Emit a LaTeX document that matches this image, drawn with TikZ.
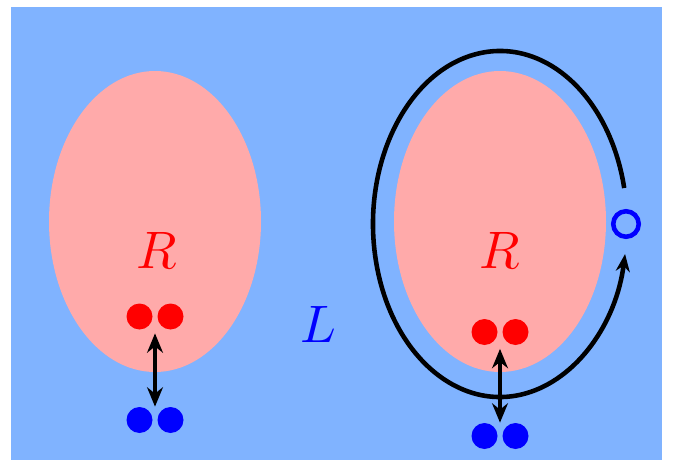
\documentclass[tikz,border=0pt]{standalone}
\usetikzlibrary{arrows.meta,calc,shapes.geometric}

\definecolor{skyblue}{RGB}{128,179,255}
\definecolor{rosepink}{RGB}{255,170,170}

\begin{document}
\begin{tikzpicture}[
    region/.style={ellipse, fill=rosepink, minimum width=4.24cm, minimum height=6.02cm, inner sep=0pt},
    dot/.style={circle, minimum size=0.52cm, inner sep=0pt},
    ring/.style={circle, draw=blue, line width=2.6pt, minimum size=0.51cm, inner sep=0pt},
    label/.style={scale=3},
    link/.style={arrows={Stealth[length=11pt, width=9pt]-Stealth[length=11pt, width=9pt]}, line width=2.8pt},
    orbit/.style={arrows={-Stealth[length=10pt, width=8pt]}, line width=2.6pt}
]

    % Canvas and background
    \useasboundingbox (0,0) rectangle (13.5,9.2);
    \fill[skyblue] (0.22,0) rectangle (13.24,9.06);

    % Regions
    \node[region] (regL) at (3.1,4.77) {};
    \node[region] (regR) at (10,4.77) {};

    % Labels
    \node[label, text=red] (labL) at (3.14,4.2) {$R$};
    \node[label, text=red] (labR) at (10,4.2) {$R$};
    \node[label, text=blue] (labM) at (6.36,2.72) {$L$};

    % Left pairs
    \node[dot, fill=red] (rl1) at (2.79,2.87) {};
    \node[dot, fill=red] (rl2) at (3.41,2.87) {};
    \node[dot, fill=blue] (bl1) at (2.79,0.8) {};
    \node[dot, fill=blue] (bl2) at (3.41,0.8) {};

    % Right pairs
    \node[dot, fill=red] (rr1) at (9.69,2.56) {};
    \node[dot, fill=red] (rr2) at (10.31,2.56) {};
    \node[dot, fill=blue] (br1) at (9.69,0.48) {};
    \node[dot, fill=blue] (br2) at (10.31,0.48) {};

    % Open site on the loop
    \node[ring] (gap) at (12.52,4.72) {};
    \coordinate (loopc) at (10,4.72);

    % Exchange arrows
    \draw[link, shorten <=2pt] ($(rl1.south)!.5!(rl2.south)$) -- ($(bl1.north)!.5!(bl2.north)$);
    \draw[link, shorten <=2pt] ($(rr1.south)!.5!(rr2.south)$) -- ($(br1.north)!.5!(br2.north)$);

    % Loop round the right region
    \draw[orbit] (loopc) ++(12:2.54 and 3.46)
        arc[start angle=12, end angle=350, x radius=2.54cm, y radius=3.46cm];

\end{tikzpicture}
\end{document}
